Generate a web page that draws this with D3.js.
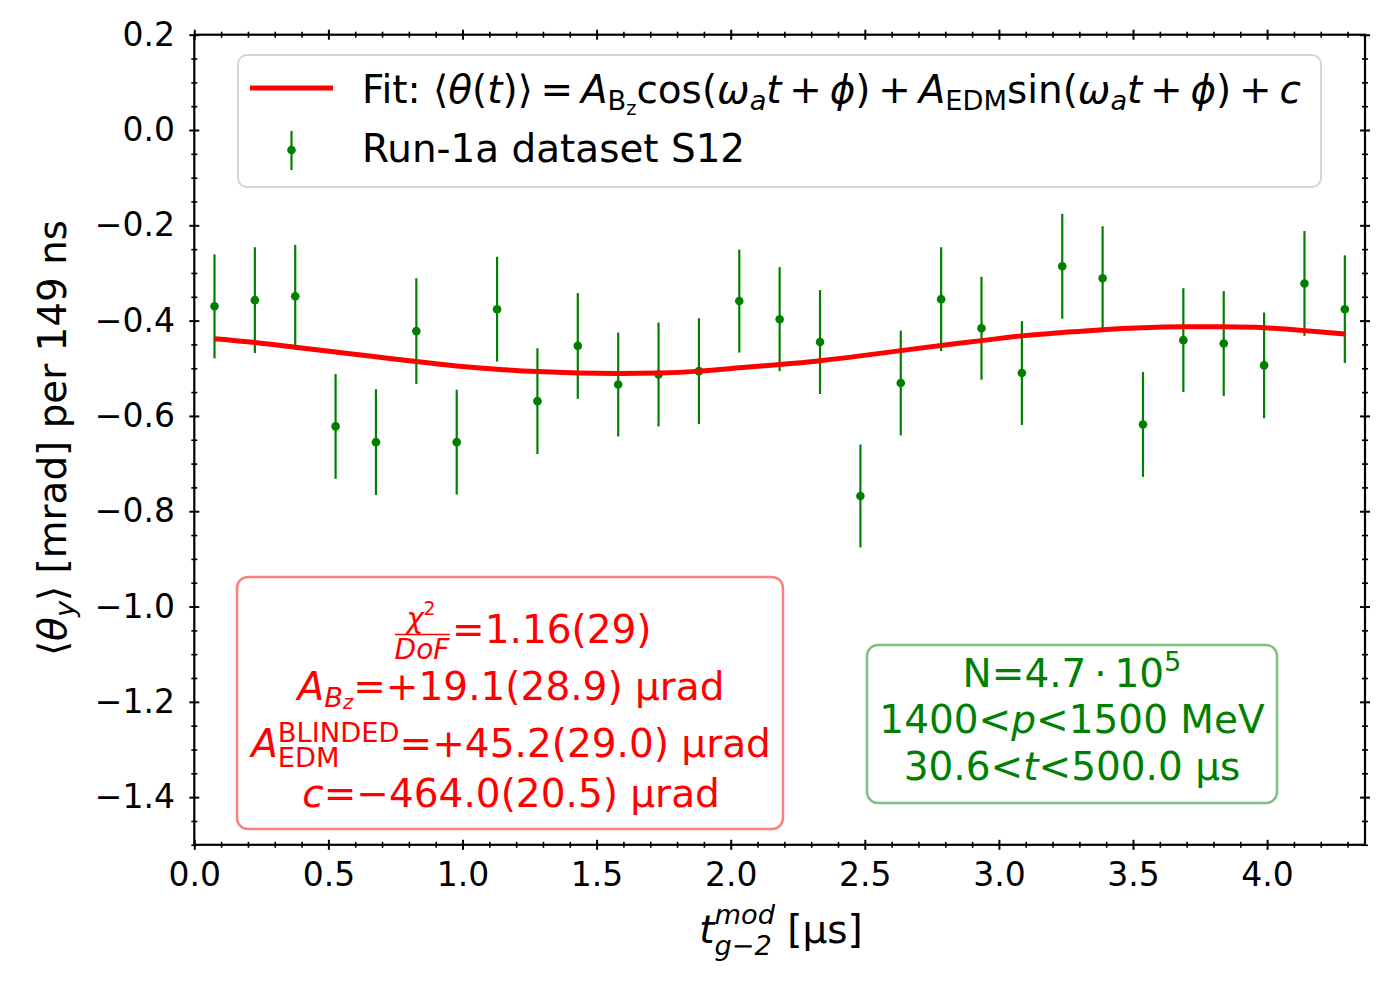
<!DOCTYPE html>
<html>
<head>
<meta charset="utf-8">
<title>EDM fit S12</title>
<style>
  body { margin: 0; background: #fff; }
  svg { display: block; }
  text { white-space: pre; }
</style>
</head>
<body>
<div id="chart"></div>
<script src="https://d3js.org/d3.v7.min.js"></script>
<script>

// data (t in µs, theta in mrad)
var tMod = [0.0753, 0.2258, 0.3763, 0.5268, 0.6773, 0.8279, 0.9784, 1.1289, 1.2794, 1.4299,
            1.5805, 1.7310, 1.8815, 2.0320, 2.1825, 2.3331, 2.4836, 2.6341, 2.7846, 2.9351,
            3.0857, 3.2362, 3.3867, 3.5372, 3.6877, 3.8383, 3.9888, 4.1393, 4.2898];
var thetaY = [-0.370, -0.357, -0.349, -0.622, -0.655, -0.422, -0.655, -0.376, -0.569, -0.453,
              -0.534, -0.513, -0.506, -0.359, -0.397, -0.445, -0.768, -0.531, -0.355, -0.416,
              -0.510, -0.286, -0.311, -0.618, -0.441, -0.448, -0.494, -0.322, -0.376];
var thetaErr = [0.109, 0.111, 0.108, 0.110, 0.111, 0.111, 0.110, 0.110, 0.111, 0.111,
                0.109, 0.109, 0.111, 0.108, 0.109, 0.109, 0.108, 0.110, 0.109, 0.108,
                0.109, 0.110, 0.109, 0.110, 0.109, 0.110, 0.111, 0.110, 0.113];
// fit curve as read at the same times
var fitY = [-0.438, -0.446, -0.456, -0.466, -0.476, -0.486, -0.495, -0.502, -0.507, -0.510,
            -0.511, -0.510, -0.506, -0.499, -0.492, -0.484, -0.474, -0.463, -0.452, -0.442,
            -0.432, -0.425, -0.419, -0.415, -0.413, -0.413, -0.415, -0.421, -0.428];

var xMajor = [0, 0.5, 1.0, 1.5, 2.0, 2.5, 3.0, 3.5, 4.0];
var yMajor = [0.2, 0.0, -0.2, -0.4, -0.6, -0.8, -1.0, -1.2, -1.4];

var FONT = "DejaVu Sans";
var W = 1400, H = 1000;
var box = {left: 194.3, top: 34.7, right: 1365, bottom: 844.8};
var TS = "\u2009"; // thin space, mathtext-like spacing

var svg = d3.select("#chart").append("svg")
    .attr("width", W).attr("height", H)
    .style("font-family", FONT);

var x = d3.scaleLinear().domain([0, 4.365]).range([box.left, box.right]);
var y = d3.scaleLinear().domain([-1.5, 0.2]).range([box.bottom, box.top]);

// minor tick values (skip the majors)
var xMinor = d3.range(0, 4.36, 0.1).filter(function(v){ return Math.abs(v*2 - Math.round(v*2)) > 1e-6; });
var yMinor = d3.range(-1.5, 0.201, 0.05).filter(function(v){ return Math.abs(v*5 - Math.round(v*5)) > 1e-6; });

// text with sub/superscripts built out of tspans
function rich(parent, px, py, size, fill, anchor, segs) {
    var text = parent.append("text")
        .attr("x", px).attr("y", py)
        .attr("font-size", size)
        .attr("fill", fill)
        .attr("text-anchor", anchor);
    var cur = 0, prev = null, pending = 0;
    segs.forEach(function(s){
        var sc = s.sc || 1, sh = (s.sh || 0) * size;
        var ts = text.append("tspan")
            .attr("dy", sh - cur)
            .attr("font-size", size * sc)
            .attr("font-style", s.it ? "italic" : null)
            .text(s.t);
        cur = sh;
        if (s.stack && prev) {
            // put this one under/over the previous piece
            var pw = prev.getComputedTextLength(), w = ts.node().getComputedTextLength();
            ts.attr("dx", -pw);
            pending = Math.max(pw - w, 0);
        } else if (pending) {
            ts.attr("dx", pending);
            pending = 0;
        }
        prev = ts.node();
    });
    return text;
}

// axes: ticks cross the frame (in and out)
function tickAxis(axisFn, pos, vals, len, width, fmt, pad) {
    var a = axisFn.tickValues(vals).tickSizeInner(len).tickSizeOuter(0)
        .tickFormat(fmt || "").tickPadding(pad || 0);
    var g = svg.append("g").attr("transform", pos).call(a);
    g.select(".domain").remove();
    g.selectAll(".tick line").attr("stroke-width", width);
    return g;
}

var fmt = d3.format(".1f");

// bottom
var gb = tickAxis(d3.axisBottom(x), "translate(0," + box.bottom + ")", xMajor, 5, 2, fmt, 13);
gb.selectAll(".tick line").attr("y1", -5).attr("y2", 5);
gb.selectAll("text").attr("font-size", 33).attr("font-family", FONT).attr("fill", "#000");
var gbm = tickAxis(d3.axisBottom(x), "translate(0," + box.bottom + ")", xMinor, 3, 1.6);
gbm.selectAll(".tick line").attr("y1", -3).attr("y2", 3);
// top
var gt = tickAxis(d3.axisTop(x), "translate(0," + box.top + ")", xMajor, 5, 2);
gt.selectAll(".tick line").attr("y1", -5).attr("y2", 5);
var gtm = tickAxis(d3.axisTop(x), "translate(0," + box.top + ")", xMinor, 3, 1.6);
gtm.selectAll(".tick line").attr("y1", -3).attr("y2", 3);
// left
var gl = tickAxis(d3.axisLeft(y), "translate(" + box.left + ",0)", yMajor, 5, 2, fmt, 14.3);
gl.selectAll(".tick line").attr("x1", -5).attr("x2", 5);
gl.selectAll("text").attr("font-size", 33).attr("font-family", FONT).attr("fill", "#000");
var glm = tickAxis(d3.axisLeft(y), "translate(" + box.left + ",0)", yMinor, 3, 1.6);
glm.selectAll(".tick line").attr("x1", -3).attr("x2", 3);
// right
var gr = tickAxis(d3.axisRight(y), "translate(" + box.right + ",0)", yMajor, 5, 2);
gr.selectAll(".tick line").attr("x1", -5).attr("x2", 5);
var grm = tickAxis(d3.axisRight(y), "translate(" + box.right + ",0)", yMinor, 3, 1.6);
grm.selectAll(".tick line").attr("x1", -3).attr("x2", 3);

svg.selectAll(".tick text").filter(function(){ return this.textContent === ""; }).remove();

// frame
svg.append("rect")
    .attr("x", box.left).attr("y", box.top)
    .attr("width", box.right - box.left).attr("height", box.bottom - box.top)
    .attr("fill", "none").attr("stroke", "#000").attr("stroke-width", 2.2);

// data points with error bars
var pts = svg.append("g");
pts.selectAll("line.err").data(tMod).enter().append("line")
    .attr("class", "err")
    .attr("x1", function(d){ return x(d); }).attr("x2", function(d){ return x(d); })
    .attr("y1", function(d, i){ return y(thetaY[i] + thetaErr[i]); })
    .attr("y2", function(d, i){ return y(thetaY[i] - thetaErr[i]); })
    .attr("stroke", "green").attr("stroke-width", 2.2);
pts.selectAll("circle").data(tMod).enter().append("circle")
    .attr("cx", function(d){ return x(d); })
    .attr("cy", function(d, i){ return y(thetaY[i]); })
    .attr("r", 4.3).attr("fill", "green");

// fit line
var line = d3.line()
    .x(function(d){ return x(d); })
    .y(function(d, i){ return y(fitY[i]); })
    .curve(d3.curveNatural);
svg.append("path").datum(tMod)
    .attr("d", line)
    .attr("fill", "none").attr("stroke", "red").attr("stroke-width", 5);

// legend
var leg = svg.append("g");
leg.append("rect").attr("x", 238).attr("y", 55).attr("width", 1083).attr("height", 132).attr("rx", 9)
    .attr("fill", "#fff").attr("fill-opacity", 0.8).attr("stroke", "#d5d5d5").attr("stroke-width", 2);
leg.append("line").attr("x1", 250).attr("x2", 333).attr("y1", 88).attr("y2", 88)
    .attr("stroke", "red").attr("stroke-width", 5);
leg.append("line").attr("x1", 291.5).attr("x2", 291.5).attr("y1", 131).attr("y2", 170)
    .attr("stroke", "green").attr("stroke-width", 2.2);
leg.append("circle").attr("cx", 291.5).attr("cy", 150).attr("r", 4.3).attr("fill", "green");

rich(leg, 362, 103, 38.9, "#000", "start", [
    {t: "Fit: ⟨"}, {t: "θ", it: 1}, {t: "("}, {t: "t", it: 1}, {t: ")⟩" + TS + "=" + TS},
    {t: "A", it: 1}, {t: "B", sh: 0.18, sc: 0.7}, {t: "z", sh: 0.3, sc: 0.5},
    {t: "cos("}, {t: "ω", it: 1}, {t: "a", it: 1, sh: 0.18, sc: 0.7}, {t: "t", it: 1},
    {t: TS + "+" + TS}, {t: "ϕ", it: 1}, {t: ")" + TS + "+" + TS},
    {t: "A", it: 1}, {t: "EDM", sh: 0.18, sc: 0.7},
    {t: "sin("}, {t: "ω", it: 1}, {t: "a", it: 1, sh: 0.18, sc: 0.7}, {t: "t", it: 1},
    {t: TS + "+" + TS}, {t: "ϕ", it: 1}, {t: ")" + TS + "+" + TS}, {t: "c", it: 1}
]);
rich(leg, 362, 162, 38.9, "#000", "start", [{t: "Run-1a dataset S12"}]);

// fit result box
var rb = svg.append("g");
rb.append("rect").attr("x", 237).attr("y", 577).attr("width", 546).attr("height", 252).attr("rx", 11)
    .attr("fill", "#fff").attr("stroke", "rgba(255,0,0,0.5)").attr("stroke-width", 2.5);
rich(rb, 421, 628, 29, "red", "middle", [{t: "χ", it: 1}, {t: "2", sh: -0.45, sc: 0.65}]);
rb.append("line").attr("x1", 395).attr("x2", 450).attr("y1", 634.5).attr("y2", 634.5)
    .attr("stroke", "red").attr("stroke-width", 1.6);
rich(rb, 422, 659, 28, "red", "middle", [{t: "DoF", it: 1}]);
rich(rb, 452, 643, 39, "red", "start", [{t: "=1.16(29)"}]);
rich(rb, 511, 700, 39, "red", "middle", [
    {t: "A", it: 1}, {t: "B", it: 1, sh: 0.17, sc: 0.7}, {t: "z", it: 1, sh: 0.22, sc: 0.5},
    {t: "=+19.1(28.9) µrad"}
]);
rich(rb, 511, 757, 39, "red", "middle", [
    {t: "A", it: 1}, {t: "BLINDED", sh: -0.39, sc: 0.7}, {t: "EDM", sh: 0.25, sc: 0.7, stack: 1},
    {t: "=+45.2(29.0) µrad"}
]);
rich(rb, 511, 807, 39, "red", "middle", [{t: "c", it: 1}, {t: "=−464.0(20.5) µrad"}]);

// selection box
var gbx = svg.append("g");
gbx.append("rect").attr("x", 867).attr("y", 645).attr("width", 410).attr("height", 158).attr("rx", 11)
    .attr("fill", "#fff").attr("stroke", "rgba(0,128,0,0.5)").attr("stroke-width", 2.5);
rich(gbx, 1072, 687, 39, "green", "middle", [{t: "N=4.7" + TS + "·" + TS + "10"}, {t: "5", sh: -0.42, sc: 0.7}]);
rich(gbx, 1072, 733, 39, "green", "middle", [{t: "1400<"}, {t: "p", it: 1}, {t: "<1500 MeV"}]);
rich(gbx, 1072, 780, 39, "green", "middle", [{t: "30.6<"}, {t: "t", it: 1}, {t: "<500.0 µs"}]);

// axis labels
rich(svg, 781, 943, 38.9, "#000", "middle", [
    {t: "t", it: 1}, {t: "mod", it: 1, sh: -0.5, sc: 0.7}, {t: "g−2", it: 1, sh: 0.3, sc: 0.7, stack: 1},
    {t: " [µs]"}
]);
rich(svg.append("g").attr("transform", "translate(66,438) rotate(-90)"), 0, 0, 38.9, "#000", "middle", [
    {t: "⟨"}, {t: "θ", it: 1}, {t: "y", it: 1, sh: 0.2, sc: 0.7}, {t: "⟩ [mrad] per 149 ns"}
]);

</script>
</body>
</html>
